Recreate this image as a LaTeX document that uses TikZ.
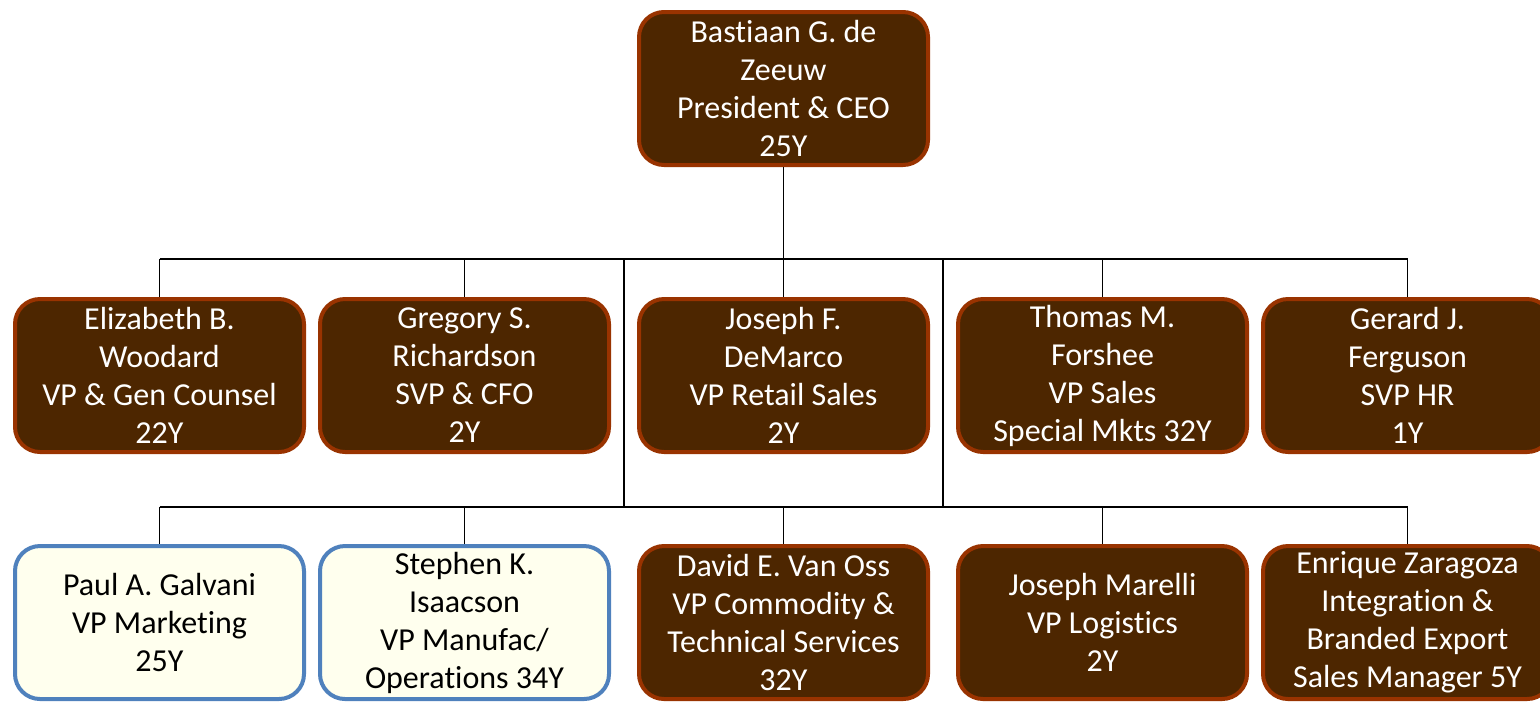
\documentclass[tikz,border=0pt]{standalone}
\usepackage{fontspec}
\setmainfont[Ligatures=NoCommon]{Carlito}
\usepackage{xcolor}
\usepackage{tikz}
\usetikzlibrary{positioning,calc}
\definecolor{orgbrown}{HTML}{4D2600}
\definecolor{orgrust}{HTML}{993300}
\definecolor{orgivory}{HTML}{FFFFEE}
\definecolor{orgblue}{HTML}{4F81BD}
\newcommand{\orgbox}[4]{
    \node[
        #1,
        draw=orgrust,
        fill=orgbrown,
        text=white,
        #2
    ] (#3) {#4};
}

\begin{document}
\begin{tikzpicture}[x=0.5pt,y=-0.5pt,
    card/.style={rounded corners=12.5pt, line width=2pt, minimum width=144.5pt,
        minimum height=76.5pt, inner sep=0pt, align=center,
        font=\fontsize{16}{19}\selectfont},
    lightcard/.style={card, draw=orgblue, fill=orgivory, text=black},
    link/.style={line width=0.8pt, black}]
    \useasboundingbox (0,0) rectangle (1540,703);

    \orgbox{card}{at={(783.5,88.5)}}{ceo}{Bastiaan G. de\\Zeeuw\\President \& CEO\\25Y}

    \orgbox{card}{below=65pt of ceo}{retail}{Joseph F.\\DeMarco\\VP Retail Sales\\2Y}
    \orgbox{card}{left=13pt of retail}{cfo}{Gregory S.\\Richardson\\SVP \& CFO\\2Y}
    \orgbox{card}{left=6pt of cfo}{counsel}{Elizabeth B.\\Woodard\\VP \& Gen Counsel\\22Y}
    \orgbox{card}{right=13pt of retail}{specmkts}{Thomas M.\\Forshee\\VP Sales\\Special Mkts 32Y}
    \orgbox{card}{right=6pt of specmkts}{hr}{Gerard J.\\Ferguson\\SVP HR\\1Y}

    \orgbox{card}{below=45pt of retail}{commodity}{David E. Van Oss\\VP Commodity \&\\Technical Services\\32Y}
    \node[lightcard, below=45pt of cfo] (manufac) {Stephen K.\\Isaacson\\VP Manufac/\\Operations 34Y};
    \node[lightcard, below=45pt of counsel] (marketing) {Paul A. Galvani\\VP Marketing\\25Y};
    \orgbox{card}{below=45pt of specmkts}{logistics}{Joseph Marelli\\VP Logistics\\2Y}
    \orgbox{card}{below=45pt of hr}{export}{Enrique Zaragoza\\Integration \&\\Branded Export\\Sales Manager 5Y}

    % bus lines
    \coordinate (bus1) at (0,259);
    \coordinate (bus2) at (0,507);
    \coordinate (tapl) at ($(cfo.east)!0.5!(retail.west)$);
    \coordinate (tapr) at ($(retail.east)!0.5!(specmkts.west)$);

    \draw[link] (ceo.south) -- (ceo.south |- bus1);
    \draw[link] (counsel.north |- bus1) -- (hr.north |- bus1);
    \foreach \n in {counsel,cfo,retail,specmkts,hr}
        \draw[link] (\n.north |- bus1) -- (\n.north);

    \draw[link] (tapl |- bus1) -- (tapl |- bus2);
    \draw[link] (tapr |- bus1) -- (tapr |- bus2);
    \draw[link] (marketing.north |- bus2) -- (export.north |- bus2);
    \foreach \n in {marketing,manufac,commodity,logistics,export}
        \draw[link] (\n.north |- bus2) -- (\n.north);
\end{tikzpicture}
\end{document}
